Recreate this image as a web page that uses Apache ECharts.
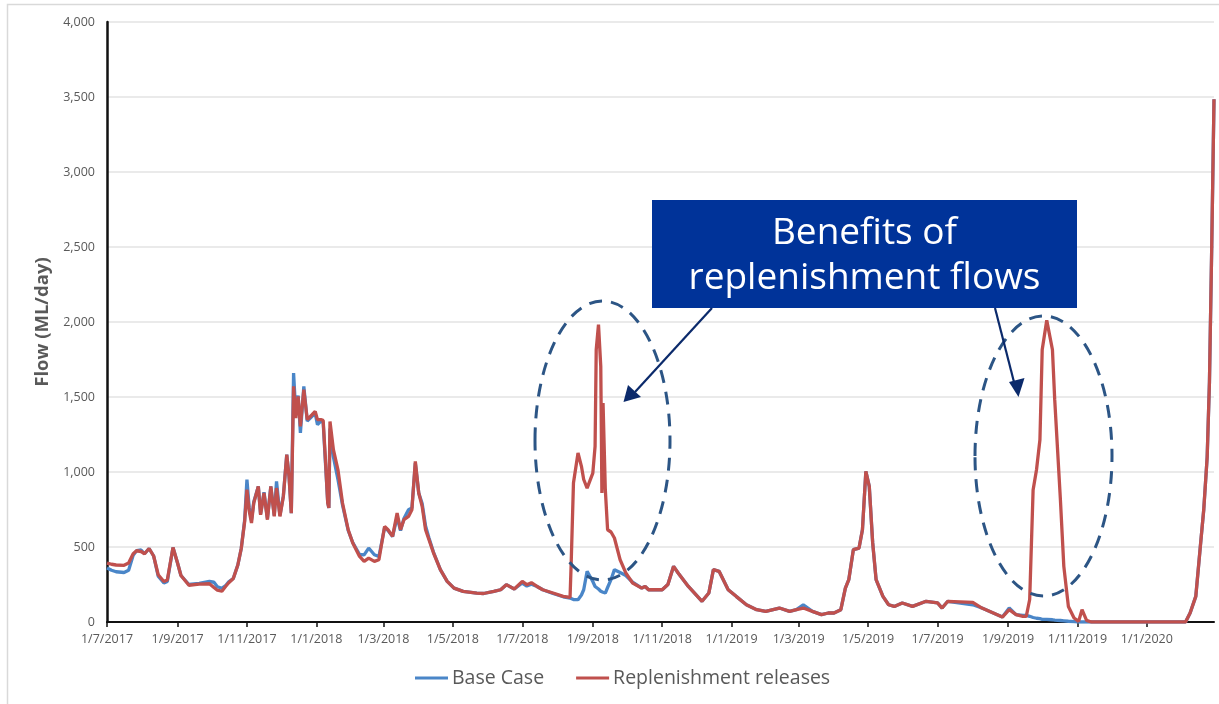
<!DOCTYPE html>
<html><head><meta charset="utf-8">
<script src="https://cdn.jsdelivr.net/npm/echarts@6/dist/echarts.min.js"></script>
<style>html,body{margin:0;padding:0;background:#fff}#c{width:1219px;height:704px}</style>
</head><body><div id="c"></div>
<script>
// Key dates (ISO), with the two series' flows (ML/day)
const keyDates = [
'2017-07-01','2017-07-05','2017-07-09','2017-07-16','2017-07-20','2017-07-24','2017-07-27','2017-07-31','2017-08-03','2017-08-07',
'2017-08-11','2017-08-15','2017-08-20','2017-08-23','2017-08-28','2017-09-01','2017-09-04','2017-09-11','2017-09-20','2017-09-29',
'2017-10-03','2017-10-06','2017-10-10','2017-10-13','2017-10-16','2017-10-20','2017-10-24','2017-10-27','2017-10-30','2017-11-01',
'2017-11-03','2017-11-05','2017-11-07','2017-11-11','2017-11-13','2017-11-16','2017-11-19','2017-11-22','2017-11-25','2017-11-27',
'2017-11-30','2017-12-03','2017-12-06','2017-12-08','2017-12-10','2017-12-12','2017-12-14','2017-12-16','2017-12-18','2017-12-21',
'2017-12-24','2017-12-28','2017-12-31','2018-01-02','2018-01-05','2018-01-07','2018-01-09','2018-01-11','2018-01-12','2018-01-13',
'2018-01-16','2018-01-20','2018-01-24','2018-01-29','2018-02-02','2018-02-08','2018-02-12','2018-02-16','2018-02-21','2018-02-25',
'2018-03-02','2018-03-05','2018-03-09','2018-03-13','2018-03-16','2018-03-19','2018-03-23','2018-03-26','2018-03-29','2018-04-01',
'2018-04-04','2018-04-07','2018-04-10','2018-04-14','2018-04-20','2018-04-26','2018-05-02','2018-05-10','2018-05-22','2018-05-28',
'2018-06-06','2018-06-12','2018-06-17','2018-06-24','2018-07-01','2018-07-05','2018-07-09','2018-07-14','2018-07-19','2018-07-28',
'2018-08-06','2018-08-12','2018-08-13','2018-08-15','2018-08-19','2018-08-22','2018-08-24','2018-08-27','2018-09-01','2018-09-03',
'2018-09-04','2018-09-06','2018-09-08','2018-09-09','2018-09-10','2018-09-12','2018-09-14','2018-09-17','2018-09-20','2018-09-25',
'2018-09-30','2018-10-06','2018-10-14','2018-10-17','2018-10-20','2018-11-01','2018-11-06','2018-11-11','2018-11-15','2018-11-24',
'2018-12-06','2018-12-12','2018-12-16','2018-12-21','2018-12-29','2019-01-05','2019-01-14','2019-01-23','2019-01-31','2019-02-12',
'2019-02-21','2019-02-27','2019-03-05','2019-03-13','2019-03-21','2019-03-27','2019-04-01','2019-04-07','2019-04-11','2019-04-14',
'2019-04-18','2019-04-23','2019-04-26','2019-04-29','2019-05-02','2019-05-05','2019-05-08','2019-05-14','2019-05-19','2019-05-24',
'2019-05-31','2019-06-09','2019-06-21','2019-07-01','2019-07-05','2019-07-10','2019-08-01','2019-08-09','2019-08-27','2019-09-02',
'2019-09-08','2019-09-14','2019-09-17','2019-09-20','2019-09-23','2019-09-26','2019-09-29','2019-10-01','2019-10-05','2019-10-10',
'2019-10-12','2019-10-17','2019-10-20','2019-10-24','2019-10-29','2019-11-02','2019-11-05','2019-11-09','2019-11-13','2020-02-04',
'2020-02-08','2020-02-13','2020-02-17','2020-02-20','2020-02-23','2020-02-25','2020-02-27','2020-02-29'
];
const replenishment = [
393,385,380,378,393,455,475,470,455,490,
440,315,270,280,497,393,310,245,252,255,
230,212,205,235,262,290,380,490,670,882,
740,660,793,904,715,860,682,904,704,893,
704,837,1115,971,726,1571,1360,1504,1304,1549,
1349,1380,1404,1349,1349,1345,1082,793,760,1337,
1149,1015,793,615,527,437,404,426,404,415,
637,615,571,726,615,682,704,749,1071,860,
771,615,549,460,349,271,226,204,193,190,
204,215,249,220,271,249,262,237,215,193,
171,164,393,927,1127,1038,950,893,993,1171,
1815,1982,1704,860,1460,882,615,600,560,415,
327,260,226,237,215,215,250,371,327,237,
138,193,349,338,215,171,115,82,71,93,
71,82,93,71,49,60,60,82,226,282,
482,493,615,1004,904,527,282,171,115,104,
127,104,138,127,93,138,131,93,33,82,
49,38,38,150,880,1015,1215,1815,2011,1815,
1482,815,371,104,27,4,82,11,0,0,
60,171,504,750,1100,1600,2500,3485
];
const baseCase = [
360,345,335,330,345,445,475,480,455,490,
440,305,260,270,497,393,310,250,258,270,
265,235,225,240,268,290,380,490,680,949,
760,680,800,904,720,865,690,904,710,937,
710,840,1115,971,726,1660,1380,1510,1260,1571,
1340,1370,1390,1316,1340,1330,1060,800,760,1290,
1100,950,780,610,530,450,448,493,448,437,
630,610,570,700,610,690,749,760,1060,860,
790,640,560,465,349,271,226,204,193,190,
204,215,249,220,260,240,252,237,215,190,
168,160,160,150,149,180,215,338,270,237,
230,220,205,200,198,193,230,282,349,330,
310,265,226,237,215,215,250,371,327,237,
138,193,349,338,215,171,115,82,71,93,
71,82,115,71,49,60,60,82,226,282,
482,493,615,1004,904,527,282,171,115,104,
127,104,138,127,93,138,115,93,33,93,
49,44,44,38,30,25,22,18,18,15,
12,10,8,5,3,0,0,0,0,0,
60,171,504,750,1100,1600,2500,3485
];
const yTicks = [0,500,1000,1500,2000,2500,3000,3500,4000];
const seriesNames = ['Base Case','Replenishment releases'];
const annotationText = 'Benefits of\nreplenishment flows';

// daily category axis
const categories = [];
(function(){
  let d = new Date(Date.UTC(2017,6,1));
  const end = Date.UTC(2020,1,29);
  while (d.getTime() <= end) {
    categories.push(d.toISOString().slice(0,10));
    d = new Date(d.getTime() + 86400000);
  }
})();
const isTick = (v) => { const m = +v.slice(5,7), dd = v.slice(8,10); return dd === '01' && m % 2 === 1; };
const fmt = (v) => { const [y,m,d] = v.split('-'); return (+d) + '/' + (+m) + '/' + y; };

const chart = echarts.init(document.getElementById('c'), null, {renderer:'canvas'});
const FONT = '"Open Sans", "Noto Sans", sans-serif';
chart.setOption({
  animation:false,
  backgroundColor:'#ffffff',
  textStyle:{fontFamily:FONT},
  grid:{left:107, right:5, top:22, bottom:82, containLabel:false},
  legend:{
    bottom:11, left:410, itemWidth:33, itemHeight:3, itemGap:32,
    icon:'rect',
    textStyle:{fontSize:19.5, color:'#595959', fontFamily:FONT, padding:[0,0,0,-1]},
    data:seriesNames
  },
  xAxis:{
    type:'category', data:categories, boundaryGap:false,
    axisLine:{lineStyle:{color:'#111', width:2}},
    axisTick:{interval:(i,v)=>isTick(v), length:5, lineStyle:{color:'#111', width:1.5}},
    axisLabel:{interval:(i,v)=>isTick(v), formatter:fmt, color:'#595959', fontSize:12.5, margin:11, fontFamily:FONT},
    splitLine:{show:false}
  },
  yAxis:{
    type:'value', min:yTicks[0], max:yTicks[yTicks.length-1], interval:yTicks[1]-yTicks[0],
    name:'Flow (ML/day)', nameLocation:'middle', nameGap:55,
    nameTextStyle:{fontSize:18.5, fontWeight:'bold', color:'#595959', fontFamily:FONT},
    axisLine:{show:true, lineStyle:{color:'#111', width:2.5}},
    axisTick:{show:false},
    axisLabel:{color:'#595959', fontSize:12.5, margin:12, formatter:(v)=>v.toLocaleString('en-US'), fontFamily:FONT},
    splitLine:{lineStyle:{color:'#e3e3e3', width:1.5}}
  },
  series:[
    {name:seriesNames[0], type:'line', showSymbol:false, symbol:'none', z:2,
     lineStyle:{color:'#4a86c8', width:3.3}, itemStyle:{color:'#4a86c8'},
     data:keyDates.map((d,i)=>[d, baseCase[i]])},
    {name:seriesNames[1], type:'line', showSymbol:false, symbol:'none', z:3,
     lineStyle:{color:'#c0504d', width:3.3}, itemStyle:{color:'#c0504d'},
     data:keyDates.map((d,i)=>[d, replenishment[i]])}
  ],
  graphic:[
    {type:'rect', silent:true, z:-1, shape:{x:7.5, y:4.5, width:1230, height:720},
     style:{fill:'none', stroke:'#d9d9d9', lineWidth:1.5}},
    {type:'ellipse', silent:true, z:10, shape:{cx:602.5, cy:440.5, rx:67.5, ry:139.5},
     style:{fill:'none', stroke:'#2c5585', lineWidth:3, lineDash:[13,9]}},
    {type:'ellipse', silent:true, z:10, shape:{cx:1043.5, cy:456, rx:68.5, ry:140},
     style:{fill:'none', stroke:'#2c5585', lineWidth:3, lineDash:[13,9]}},
    {type:'rect', silent:true, z:11, shape:{x:652, y:200, width:425, height:108},
     style:{fill:'#003399'}},
    {type:'text', silent:true, z:12, x:864.5, y:256,
     style:{text:annotationText, fill:'#ffffff', font:'37px ' + FONT, align:'center', verticalAlign:'middle', lineHeight:45}},
    {type:'line', silent:true, z:12, shape:{x1:712, y1:308, x2:635, y2:392},
     style:{stroke:'#0b2a6b', lineWidth:2.2}},
    {type:'polygon', silent:true, z:12, shape:{points:[[623.5,402],[628,385],[641,397]]},
     style:{fill:'#0b2a6b'}},
    {type:'line', silent:true, z:12, shape:{x1:995, y1:308, x2:1014.5, y2:384},
     style:{stroke:'#0b2a6b', lineWidth:2.2}},
    {type:'polygon', silent:true, z:12, shape:{points:[[1018.5,397],[1009,382],[1024.5,378]]},
     style:{fill:'#0b2a6b'}}
  ]
});
</script></body></html>
